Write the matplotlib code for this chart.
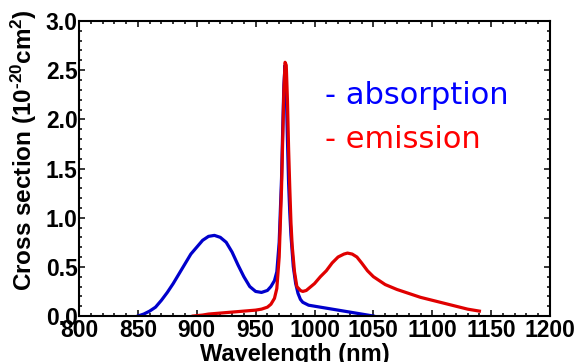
import numpy as np
import matplotlib.pyplot as plt
from matplotlib.ticker import MultipleLocator

# absorption spectrum (blue)
abs_wl = [850, 855, 860, 865, 870, 875, 880, 885, 890, 895, 900, 905, 910, 915,
          920, 925, 930, 935, 940, 945, 950, 955, 960, 963, 966, 968, 970, 972,
          973, 974, 975, 976, 977, 978, 979, 980, 982, 984, 986, 988, 990, 995,
          1000, 1005, 1010, 1020, 1030, 1040, 1050]
abs_cs = [0.0, 0.02, 0.05, 0.09, 0.16, 0.24, 0.33, 0.43, 0.53, 0.63, 0.70, 0.77,
          0.81, 0.82, 0.80, 0.75, 0.65, 0.52, 0.40, 0.30, 0.25, 0.24, 0.26, 0.30,
          0.36, 0.45, 0.75, 1.4, 1.9, 2.35, 2.55, 2.3, 1.8, 1.35, 1.05, 0.82, 0.5,
          0.33, 0.23, 0.17, 0.14, 0.11, 0.10, 0.09, 0.08, 0.06, 0.04, 0.02, 0.0]

# emission spectrum (red)
em_wl = [897, 905, 910, 920, 930, 940, 950, 955, 960, 963, 966, 968, 970, 972,
         973, 974, 975, 976, 977, 978, 979, 980, 981, 983, 985, 988, 990, 993,
         996, 1000, 1005, 1010, 1015, 1020, 1025, 1028, 1032, 1036, 1040, 1045,
         1050, 1055, 1060, 1070, 1080, 1090, 1100, 1110, 1120, 1130, 1140]
em_cs = [0.0, 0.01, 0.02, 0.03, 0.04, 0.05, 0.06, 0.07, 0.09, 0.12, 0.18, 0.28,
         0.6, 1.3, 1.8, 2.3, 2.58, 2.55, 2.2, 1.7, 1.3, 0.95, 0.72, 0.45, 0.30,
         0.26, 0.25, 0.26, 0.29, 0.33, 0.40, 0.46, 0.54, 0.60, 0.63, 0.64, 0.63,
         0.60, 0.54, 0.46, 0.40, 0.36, 0.32, 0.27, 0.23, 0.19, 0.16, 0.13, 0.10,
         0.07, 0.05]

plt.rcParams['font.family'] = ['Liberation Sans', 'DejaVu Sans']
plt.rcParams['mathtext.fontset'] = 'custom'
plt.rcParams['mathtext.rm'] = 'Liberation Sans:bold'
plt.rcParams['mathtext.it'] = 'Liberation Sans:bold'
plt.rcParams['mathtext.bf'] = 'Liberation Sans:bold'

fig = plt.figure(figsize=(5.79, 3.62), dpi=100)
ax = fig.add_axes([0.1364, 0.127, 0.8136, 0.815])

ax.plot(abs_wl, abs_cs, color='#0000cc', lw=2.3)
ax.plot(em_wl, em_cs, color='#e00000', lw=2.3)

ax.set_xlim(800, 1200)
ax.set_ylim(0, 3.0)
ax.xaxis.set_major_locator(MultipleLocator(50))
ax.xaxis.set_minor_locator(MultipleLocator(10))
ax.yaxis.set_major_locator(MultipleLocator(0.5))
ax.yaxis.set_minor_locator(MultipleLocator(0.1))
ax.yaxis.set_major_formatter(plt.FormatStrFormatter('%.1f'))

ax.tick_params(which='both', direction='in', top=True, right=True, width=1.1)
ax.tick_params(which='major', length=4)
ax.tick_params(which='minor', length=2.2)
ax.tick_params(axis='x', pad=2)
ax.tick_params(axis='y', pad=1)
for lab in ax.get_xticklabels() + ax.get_yticklabels():
    lab.set_fontsize(16.5)
    lab.set_fontweight('bold')
for s in ax.spines.values():
    s.set_linewidth(1.5)

ax.set_xlabel('Wavelength (nm)', fontsize=17, fontweight='bold')
ax.xaxis.set_label_coords(0.459, -0.093)
ax.set_ylabel(r'Cross section (10$^{\text{-}20}$cm$^{2}$)', fontsize=17.5,
              fontweight='bold')
ax.yaxis.set_label_coords(-0.085, 0.563)

ax.text(0.522, 0.749, '- absorption', transform=ax.transAxes, color='#0000ff',
        fontsize=22, family='DejaVu Sans', va='center', ha='left')
ax.text(0.522, 0.597, '- emission', transform=ax.transAxes, color='#ff0000',
        fontsize=22, family='DejaVu Sans', va='center', ha='left')

fig.savefig('out.png', dpi=100)
